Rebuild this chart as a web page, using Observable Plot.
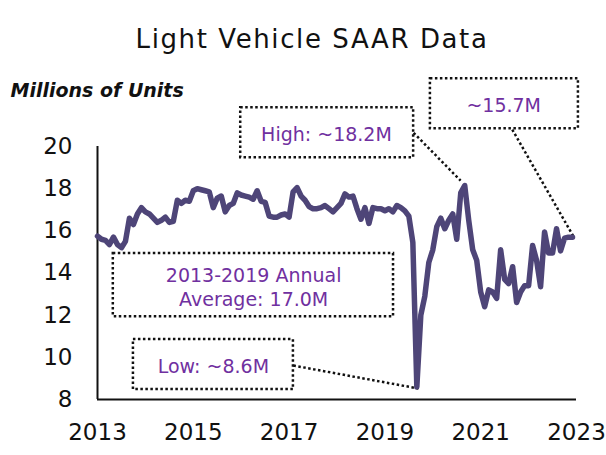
<!DOCTYPE html>
<html>
<head>
<meta charset="utf-8">
<script src="https://cdn.jsdelivr.net/npm/d3@7"></script>
<script src="https://cdn.jsdelivr.net/npm/@observablehq/plot@0.6"></script>
<style>
  html, body { margin: 0; padding: 0; background: #fff; }
  #wrap { width: 606px; height: 455px; position: relative; overflow: hidden; }
  #title { box-sizing: border-box; height: 70px; padding-top: 23px; padding-left: 18px;
    text-align: center; font-family: "DejaVu Sans", sans-serif; font-size: 26px; line-height: 32px;
    color: #111; letter-spacing: 1.6px; }
</style>
</head>
<body>
<div id="wrap">
  <div id="title">Light Vehicle SAAR Data</div>
  <div id="chart"></div>
</div>
<script>
// ---- data (monthly SAAR, millions of units) ----
const startYear = 2013;
const saar = [
  15.75, 15.6, 15.55, 15.35, 15.7, 15.35, 15.2, 15.5, 16.6, 16.3, 16.8, 17.1,
  16.9, 16.8, 16.6, 16.4, 16.5, 16.65, 16.4, 16.45, 17.45, 17.3, 17.45, 17.4,
  17.9, 18.0, 17.95, 17.9, 17.85, 17.1, 17.55, 17.65, 16.9, 17.2, 17.3, 17.8,
  17.7, 17.65, 17.6, 17.5, 17.9, 17.4, 17.35, 16.7, 16.65, 16.65, 16.75, 16.8,
  16.65, 17.85, 18.05, 17.65, 17.45, 17.15, 17.05, 17.05, 17.1, 17.2, 17.05, 16.9,
  17.1, 17.3, 17.75, 17.6, 17.65, 17.05, 16.55, 17.1, 16.35, 17.1, 17.05, 17.05,
  16.95, 17.05, 16.9, 17.2, 17.1, 16.95, 16.7, 15.45, 8.6, 12.0, 12.9, 14.5,
  15.1, 16.2, 16.6, 16.1, 16.5, 16.8, 15.6, 17.8, 18.15, 16.5, 15.1, 14.6,
  13.1, 12.4, 13.2, 13.1, 12.8, 15.1, 13.7, 13.5, 14.3, 12.6, 13.1, 13.4,
  13.4, 15.3, 14.6, 13.35, 15.95, 14.95, 14.95, 16.1, 15.05, 15.65, 15.7, 15.7
];
const xTicks = [2013, 2015, 2017, 2019, 2021, 2023];
const yTicks = [8, 10, 12, 14, 16, 18, 20];
const boxLabels = ["High: ~18.2M", "~15.7M", "2013-2019 Annual\nAverage: 17.0M", "Low: ~8.6M"];
const yLabel = "Millions of Units";

// ---- annotation layout (in data units) ----
const boxes = [
  {x1: 2015.99, x2: 2019.60, y1: 19.47, y2: 21.84, tx: 2017.78, ty: 20.65, text: boxLabels[0]},
  {x1: 2019.95, x2: 2023.04, y1: 20.84, y2: 23.21, tx: 2021.48, ty: 22.03, text: boxLabels[1]},
  {x1: 2013.33, x2: 2019.18, y1: 11.93, y2: 14.92, tx: 2016.26, ty: 13.38, text: boxLabels[2]},
  {x1: 2013.75, x2: 2017.09, y1: 8.47, y2: 10.84, tx: 2015.42, ty: 9.61, text: boxLabels[3]}
];
const leaders = [
  {x1: 2019.60, y1: 20.65, x2: 2020.58, y2: 18.38},
  {x1: 2021.66, y1: 20.80, x2: 2022.94, y2: 15.72},
  {x1: 2017.09, y1: 9.61, x2: 2019.70, y2: 8.52}
];

const data = saar.map((v, i) => ({t: startYear + i / 12, v}));

const lineColor = "#4e4578";
const textPurple = "#7030a0";
const dotted = {stroke: "#111", strokeWidth: 2.5, strokeDasharray: "2.5,2.5"};

const chart = Plot.plot({
  width: 606,
  height: 385,
  marginLeft: 97,
  marginRight: 30,
  marginTop: 76,
  marginBottom: 56,
  style: {fontFamily: "DejaVu Sans, sans-serif", fontSize: "23px", color: "#111", background: "#fff", overflow: "visible"},
  x: {domain: [2013, 2023], ticks: xTicks, tickFormat: d => String(d), tickSize: 0, tickPadding: 24, label: null},
  y: {domain: [8, 20], ticks: yTicks, tickSize: 0, tickPadding: 25, label: null},
  marks: [
    Plot.link(leaders, {x1: "x1", y1: "y1", x2: "x2", y2: "y2", ...dotted}),
    Plot.ruleX([2013], {y1: 8, y2: 20, stroke: "#111", strokeWidth: 2}),
    Plot.ruleY([8], {x1: 2013, x2: 2023, stroke: "#111", strokeWidth: 2}),
    Plot.line(data, {x: "t", y: "v", stroke: lineColor, strokeWidth: 5.5, strokeLinejoin: "round", strokeLinecap: "round"}),
    Plot.rect(boxes, {x1: "x1", x2: "x2", y1: "y1", y2: "y2", fill: "none", ...dotted}),
    Plot.text(boxes, {x: "tx", y: "ty", text: "text", fill: textPurple, fontSize: 19, lineHeight: 1.3}),
    Plot.text([yLabel], {frameAnchor: "top-left", dx: -87, dy: -63, textAnchor: "start", fontWeight: "bold", fontStyle: "italic", fontSize: 19, fill: "#111"})
  ]
});
document.getElementById("chart").appendChild(chart);
</script>
</body>
</html>
